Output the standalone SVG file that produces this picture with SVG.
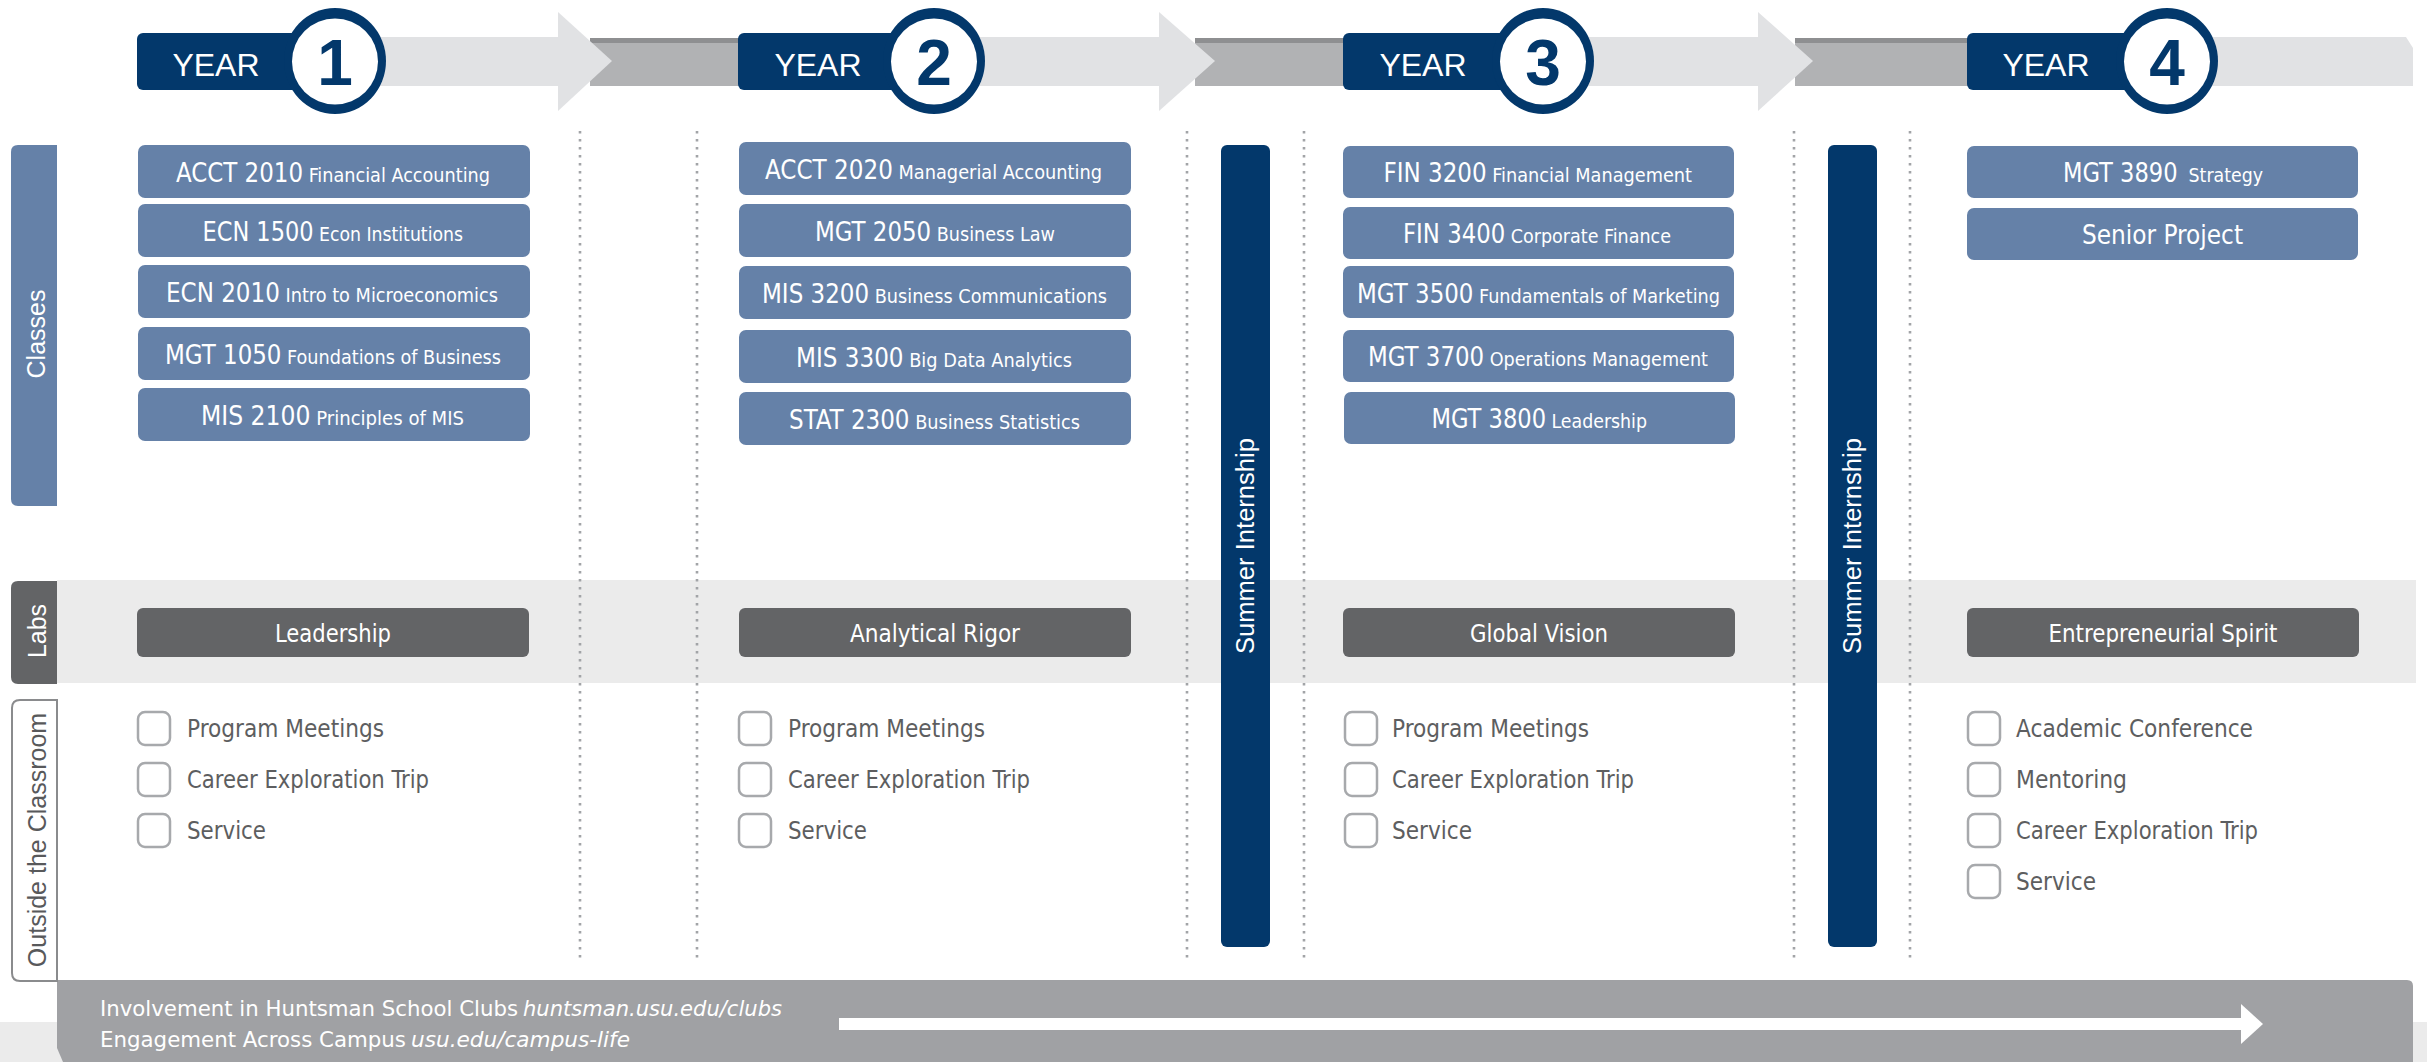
<svg xmlns="http://www.w3.org/2000/svg" width="2427" height="1062" viewBox="0 0 2427 1062">
<defs>
<style>
.navy{fill:#03386b}
.cls{fill:#6581a8}
.lab{fill:#636466}
.band{fill:#e1e2e4}
.dark{fill:#b1b2b4}
.darktop{fill:#8e8f91}
.dot{stroke:#a2a4a7;stroke-width:2.6;stroke-dasharray:2.6 5.4;fill:none}
.chk{fill:#fff;stroke:#a7a9ac;stroke-width:2.5}
.cond{font-family:"Liberation Sans Narrow","DejaVu Sans Condensed","Liberation Sans",sans-serif;font-stretch:condensed}
.reg{font-family:"Liberation Sans",Arial,sans-serif}
.ct{fill:#fff;font-size:20px}
.code{font-size:26px}
.item{fill:#5d5e60;font-size:25px}
.labt{fill:#fff;font-size:25px}
.side{font-size:25px}
.year{fill:#fff;font-size:32px}
.num{fill:#03386b;font-size:64px;font-weight:bold}
.bot{fill:#fff;font-size:21px}
</style>
</defs>

<!-- background bands -->
<rect x="0" y="1022" width="2427" height="40" fill="#ebebeb"/>
<rect x="57" y="580" width="2359" height="103" fill="#ebebeb"/>
<path d="M57,980 L2407,980 Q2413,980 2413,986 L2413,1062 L63,1062 L57,1048 Z" fill="#a0a1a4"/>

<!-- timeline top band -->
<g id="timeline">
<rect class="darktop" x="590" y="38" width="160" height="6"/>
<rect class="dark" x="590" y="43" width="160" height="43"/>
<rect class="darktop" x="1195" y="38" width="160" height="6"/>
<rect class="dark" x="1195" y="43" width="160" height="43"/>
<rect class="darktop" x="1795" y="38" width="180" height="6"/>
<rect class="dark" x="1795" y="43" width="180" height="43"/>
<rect class="band" x="200" y="37" width="360" height="49"/>
<polygon class="band" points="558,12 612,61 558,111"/>
<rect class="band" x="800" y="37" width="361" height="49"/>
<polygon class="band" points="1159,12 1215,61 1159,111"/>
<rect class="band" x="1400" y="37" width="360" height="49"/>
<polygon class="band" points="1758,12 1813,61 1758,111"/>
<polygon class="band" points="2030,37 2406,37 2413,48 2413,86 2030,86"/>
</g>

<!-- dotted separators -->
<g id="separators">
<line class="dot" x1="580" y1="131" x2="580" y2="962"/>
<line class="dot" x1="697" y1="131" x2="697" y2="962"/>
<line class="dot" x1="1187" y1="131" x2="1187" y2="962"/>
<line class="dot" x1="1304" y1="131" x2="1304" y2="962"/>
<line class="dot" x1="1794" y1="131" x2="1794" y2="962"/>
<line class="dot" x1="1910" y1="131" x2="1910" y2="962"/>
</g>

<!-- year headers -->
<g id="year1">
<rect class="navy" x="137" y="33" width="200" height="57" rx="6"/>
<ellipse class="navy" cx="335" cy="61" rx="51" ry="53"/>
<circle cx="335" cy="61.5" r="43" fill="#fff"/>
<text class="reg year" x="216" y="76" text-anchor="middle">YEAR</text>
<text class="reg num" x="335" y="85" text-anchor="middle">1</text>
</g>
<g id="year2">
<rect class="navy" x="738" y="33" width="200" height="57" rx="6"/>
<ellipse class="navy" cx="934" cy="61" rx="51" ry="53"/>
<circle cx="934" cy="61.5" r="43" fill="#fff"/>
<text class="reg year" x="818" y="76" text-anchor="middle">YEAR</text>
<text class="reg num" x="934" y="85" text-anchor="middle">2</text>
</g>
<g id="year3">
<rect class="navy" x="1343" y="33" width="200" height="57" rx="6"/>
<ellipse class="navy" cx="1543" cy="61" rx="51" ry="53"/>
<circle cx="1543" cy="61.5" r="43" fill="#fff"/>
<text class="reg year" x="1423" y="76" text-anchor="middle">YEAR</text>
<text class="reg num" x="1543" y="85" text-anchor="middle">3</text>
</g>
<g id="year4">
<rect class="navy" x="1967" y="33" width="200" height="57" rx="6"/>
<ellipse class="navy" cx="2167" cy="61" rx="51" ry="53"/>
<circle cx="2167" cy="61.5" r="43" fill="#fff"/>
<text class="reg year" x="2046" y="76" text-anchor="middle">YEAR</text>
<text class="reg num" x="2167" y="85" text-anchor="middle">4</text>
</g>

<!-- row labels -->
<g id="label-classes">
<path class="cls" d="M57,145 L18,145 Q11,145 11,152 L11,499 Q11,506 18,506 L57,506 Z"/>
<text class="reg side" fill="#fff" transform="translate(45,334) rotate(-90)" text-anchor="middle">Classes</text>
</g>
<g id="label-labs">
<path class="lab" d="M57,581 L18,581 Q11,581 11,588 L11,677 Q11,684 18,684 L57,684 Z"/>
<text class="reg side" fill="#fff" transform="translate(46,631) rotate(-90)" text-anchor="middle">Labs</text>
</g>
<g id="label-outside">
<path d="M57,700 L20,700 Q12,700 12,708 L12,973 Q12,981 20,981 L57,981 Z" fill="#fff" stroke="#8a8b8d" stroke-width="2"/>
<text class="reg side" fill="#58595b" transform="translate(46,840) rotate(-90)" text-anchor="middle">Outside the Classroom</text>
</g>

<!-- Year 1 classes -->
<g id="y1-classes">
<rect class="cls" x="138" y="145" width="392" height="53" rx="7"/>
<rect class="cls" x="138" y="204" width="392" height="53" rx="7"/>
<rect class="cls" x="138" y="265" width="392" height="53" rx="7"/>
<rect class="cls" x="138" y="327" width="392" height="53" rx="7"/>
<rect class="cls" x="138" y="388" width="392" height="53" rx="7"/>
<text class="cond ct" x="176" y="182" textLength="314" lengthAdjust="spacingAndGlyphs"><tspan class="code">ACCT 2010</tspan> Financial Accounting</text>
<text class="cond ct" x="202.5" y="241" textLength="260.5" lengthAdjust="spacingAndGlyphs"><tspan class="code">ECN 1500</tspan> Econ Institutions</text>
<text class="cond ct" x="166" y="302" textLength="332" lengthAdjust="spacingAndGlyphs"><tspan class="code">ECN 2010</tspan> Intro to Microeconomics</text>
<text class="cond ct" x="165" y="364" textLength="336" lengthAdjust="spacingAndGlyphs"><tspan class="code">MGT 1050</tspan> Foundations of Business</text>
<text class="cond ct" x="201" y="425" textLength="263" lengthAdjust="spacingAndGlyphs"><tspan class="code">MIS 2100</tspan> Principles of MIS</text>
</g>

<!-- Year 2 classes -->
<g id="y2-classes">
<rect class="cls" x="739" y="142" width="392" height="53" rx="7"/>
<rect class="cls" x="739" y="204" width="392" height="53" rx="7"/>
<rect class="cls" x="739" y="266" width="392" height="53" rx="7"/>
<rect class="cls" x="739" y="330" width="392" height="53" rx="7"/>
<rect class="cls" x="739" y="392" width="392" height="53" rx="7"/>
<text class="cond ct" x="765" y="179" textLength="337" lengthAdjust="spacingAndGlyphs"><tspan class="code">ACCT 2020</tspan> Managerial Accounting</text>
<text class="cond ct" x="815" y="241" textLength="240" lengthAdjust="spacingAndGlyphs"><tspan class="code">MGT 2050</tspan> Business Law</text>
<text class="cond ct" x="762" y="303" textLength="345" lengthAdjust="spacingAndGlyphs"><tspan class="code">MIS 3200</tspan> Business Communications</text>
<text class="cond ct" x="796" y="367" textLength="276" lengthAdjust="spacingAndGlyphs"><tspan class="code">MIS 3300</tspan> Big Data Analytics</text>
<text class="cond ct" x="789" y="429" textLength="291" lengthAdjust="spacingAndGlyphs"><tspan class="code">STAT 2300</tspan> Business Statistics</text>
</g>

<!-- Year 3 classes -->
<g id="y3-classes">
<rect class="cls" x="1343" y="146" width="391" height="52" rx="7"/>
<rect class="cls" x="1343" y="207" width="391" height="52" rx="7"/>
<rect class="cls" x="1343" y="266" width="391" height="52" rx="7"/>
<rect class="cls" x="1343" y="330" width="391" height="52" rx="7"/>
<rect class="cls" x="1344" y="392" width="391" height="52" rx="7"/>
<text class="cond ct" x="1383.5" y="182" textLength="308.5" lengthAdjust="spacingAndGlyphs"><tspan class="code">FIN 3200</tspan> Financial Management</text>
<text class="cond ct" x="1403" y="243" textLength="268" lengthAdjust="spacingAndGlyphs"><tspan class="code">FIN 3400</tspan> Corporate Finance</text>
<text class="cond ct" x="1357" y="303" textLength="363" lengthAdjust="spacingAndGlyphs"><tspan class="code">MGT 3500</tspan> Fundamentals of Marketing</text>
<text class="cond ct" x="1368" y="366" textLength="340" lengthAdjust="spacingAndGlyphs"><tspan class="code">MGT 3700</tspan> Operations Management</text>
<text class="cond ct" x="1431.5" y="428" textLength="215.5" lengthAdjust="spacingAndGlyphs"><tspan class="code">MGT 3800</tspan> Leadership</text>
</g>

<!-- Year 4 classes -->
<g id="y4-classes">
<rect class="cls" x="1967" y="146" width="391" height="52" rx="7"/>
<rect class="cls" x="1967" y="208" width="391" height="52" rx="7"/>
<text class="cond ct" x="2063" y="182" textLength="200" lengthAdjust="spacingAndGlyphs" xml:space="preserve"><tspan class="code">MGT 3890</tspan>  Strategy</text>
<text class="cond ct code" x="2082" y="244" textLength="161" lengthAdjust="spacingAndGlyphs">Senior Project</text>
</g>

<!-- Summer internships -->
<g id="internship1">
<rect class="navy" x="1221" y="145" width="49" height="802" rx="6"/>
<text class="reg" fill="#fff" font-size="25" transform="translate(1254,546) rotate(-90)" text-anchor="middle" textLength="216" lengthAdjust="spacingAndGlyphs">Summer Internship</text>
</g>
<g id="internship2">
<rect class="navy" x="1828" y="145" width="49" height="802" rx="6"/>
<text class="reg" fill="#fff" font-size="25" transform="translate(1861,546) rotate(-90)" text-anchor="middle" textLength="216" lengthAdjust="spacingAndGlyphs">Summer Internship</text>
</g>

<!-- Labs -->
<g id="lab1">
<rect class="lab" x="137" y="608" width="392" height="49" rx="6"/>
<text class="cond labt" x="333" y="642" text-anchor="middle" textLength="116" lengthAdjust="spacingAndGlyphs">Leadership</text>
</g>
<g id="lab2">
<rect class="lab" x="739" y="608" width="392" height="49" rx="6"/>
<text class="cond labt" x="935" y="642" text-anchor="middle" textLength="170" lengthAdjust="spacingAndGlyphs">Analytical Rigor</text>
</g>
<g id="lab3">
<rect class="lab" x="1343" y="608" width="392" height="49" rx="6"/>
<text class="cond labt" x="1539" y="642" text-anchor="middle" textLength="138" lengthAdjust="spacingAndGlyphs">Global Vision</text>
</g>
<g id="lab4">
<rect class="lab" x="1967" y="608" width="392" height="49" rx="6"/>
<text class="cond labt" x="2163" y="642" text-anchor="middle" textLength="229" lengthAdjust="spacingAndGlyphs">Entrepreneurial Spirit</text>
</g>

<!-- Outside the classroom -->
<g id="outside1">
<rect class="chk" x="138" y="712" width="32" height="33" rx="7"/>
<rect class="chk" x="138" y="763" width="32" height="33" rx="7"/>
<rect class="chk" x="138" y="814" width="32" height="33" rx="7"/>
<text class="cond item" x="187" y="737" textLength="197" lengthAdjust="spacingAndGlyphs">Program Meetings</text>
<text class="cond item" x="187" y="788" textLength="242" lengthAdjust="spacingAndGlyphs">Career Exploration Trip</text>
<text class="cond item" x="187" y="839" textLength="79" lengthAdjust="spacingAndGlyphs">Service</text>
</g>
<g id="outside2">
<rect class="chk" x="739" y="712" width="32" height="33" rx="7"/>
<rect class="chk" x="739" y="763" width="32" height="33" rx="7"/>
<rect class="chk" x="739" y="814" width="32" height="33" rx="7"/>
<text class="cond item" x="788" y="737" textLength="197" lengthAdjust="spacingAndGlyphs">Program Meetings</text>
<text class="cond item" x="788" y="788" textLength="242" lengthAdjust="spacingAndGlyphs">Career Exploration Trip</text>
<text class="cond item" x="788" y="839" textLength="79" lengthAdjust="spacingAndGlyphs">Service</text>
</g>
<g id="outside3">
<rect class="chk" x="1345" y="712" width="32" height="33" rx="7"/>
<rect class="chk" x="1345" y="763" width="32" height="33" rx="7"/>
<rect class="chk" x="1345" y="814" width="32" height="33" rx="7"/>
<text class="cond item" x="1392" y="737" textLength="197" lengthAdjust="spacingAndGlyphs">Program Meetings</text>
<text class="cond item" x="1392" y="788" textLength="242" lengthAdjust="spacingAndGlyphs">Career Exploration Trip</text>
<text class="cond item" x="1392" y="839" textLength="80" lengthAdjust="spacingAndGlyphs">Service</text>
</g>
<g id="outside4">
<rect class="chk" x="1968" y="712" width="32" height="33" rx="7"/>
<rect class="chk" x="1968" y="763" width="32" height="33" rx="7"/>
<rect class="chk" x="1968" y="814" width="32" height="33" rx="7"/>
<rect class="chk" x="1968" y="865" width="32" height="33" rx="7"/>
<text class="cond item" x="2016" y="737" textLength="237" lengthAdjust="spacingAndGlyphs">Academic Conference</text>
<text class="cond item" x="2016" y="788" textLength="111" lengthAdjust="spacingAndGlyphs">Mentoring</text>
<text class="cond item" x="2016" y="839" textLength="242" lengthAdjust="spacingAndGlyphs">Career Exploration Trip</text>
<text class="cond item" x="2016" y="890" textLength="80" lengthAdjust="spacingAndGlyphs">Service</text>
</g>

<!-- Bottom engagement band -->
<g id="engagement">
<text class="cond bot" x="100" y="1016" textLength="418" lengthAdjust="spacingAndGlyphs">Involvement in Huntsman School Clubs</text>
<text class="cond bot" x="523" y="1016" font-style="italic" textLength="259" lengthAdjust="spacingAndGlyphs">huntsman.usu.edu/clubs</text>
<text class="cond bot" x="100" y="1047" textLength="306" lengthAdjust="spacingAndGlyphs">Engagement Across Campus</text>
<text class="cond bot" x="411" y="1047" font-style="italic" textLength="219" lengthAdjust="spacingAndGlyphs">usu.edu/campus-life</text>
</g>
<g id="connectors">
<rect x="839" y="1018" width="1403" height="12" fill="#fff"/>
<polygon points="2241,1004 2263,1024 2241,1044" fill="#fff"/>
</g>
</svg>
